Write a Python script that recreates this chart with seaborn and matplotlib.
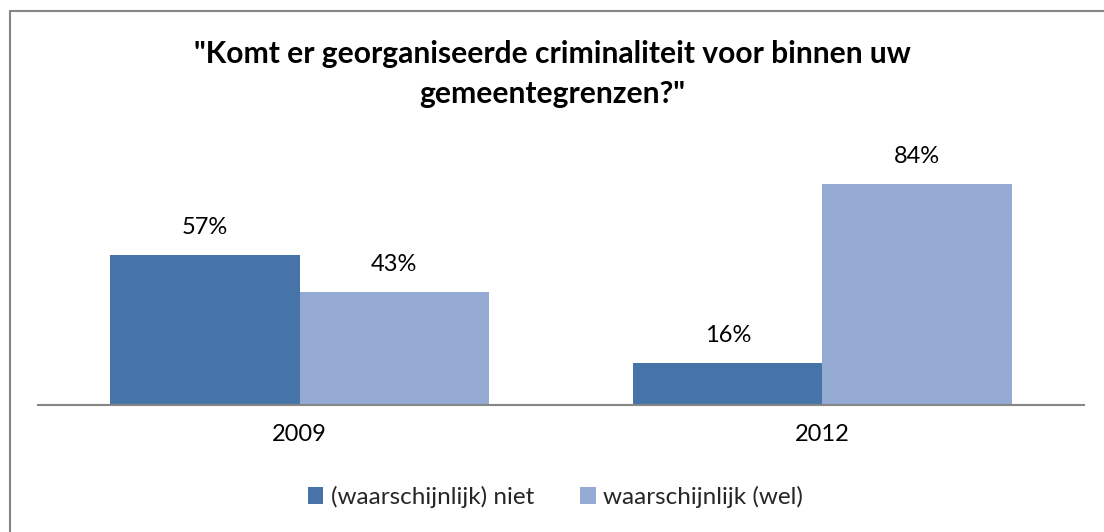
import matplotlib
matplotlib.use("Agg")
import matplotlib.pyplot as plt
from matplotlib.patches import Patch
from matplotlib.lines import Line2D
import seaborn as sns
import pandas as pd

years = ["2009", "2012"]
series = ["(waarschijnlijk) niet", "waarschijnlijk (wel)"]
niet = [57, 16]
wel = [43, 84]
colors = ["#4674A9", "#95AAD2"]
title = '"Komt er georganiseerde criminaliteit voor binnen uw\ngemeentegrenzen?"'

df = pd.DataFrame({
    "jaar": years * 2,
    "antwoord": [series[0]] * 2 + [series[1]] * 2,
    "pct": niet + wel,
})

sns.set_theme(style="white")
plt.rcParams["font.family"] = ["Lato", "DejaVu Sans"]

W, H = 1104, 532
fig = plt.figure(figsize=(W / 100, H / 100), dpi=100)
ax = fig.add_axes([38 / W, 127 / H, 1046 / W, 263 / H])

sns.barplot(data=df, x="jaar", y="pct", hue="antwoord", order=years,
            hue_order=series, palette=colors, width=0.725, saturation=1,
            linewidth=0, ax=ax, legend=False)

for cont in ax.containers:
    ax.bar_label(cont, labels=[f"{v:.0f}%" for v in cont.datavalues],
                 padding=12, fontsize=17, color="#000000")

ax.set_xlim(-0.5, 1.5)
ax.set_ylim(0, 100)
ax.set_xlabel("")
ax.set_ylabel("")
ax.set_yticks([])
ax.tick_params(axis="x", length=0, pad=14, labelsize=17, colors="#000000")
for side in ["top", "right", "left"]:
    ax.spines[side].set_visible(False)
ax.spines["bottom"].set_color("#868686")
ax.spines["bottom"].set_linewidth(1.5)

fig.text(0.5, 1 - 74 / H, title, ha="center", va="center",
         fontsize=21.6, fontweight="bold", linespacing=1.5, color="#000000")

handles = [Patch(facecolor=c, edgecolor="none") for c in colors]
fig.legend(handles, series, loc="center", bbox_to_anchor=(0.503, 1 - 497 / H),
           ncol=2, frameon=False, fontsize=17.5, handlelength=0.65,
           handleheight=0.65, handletextpad=0.3, columnspacing=1.9)

# outer chart frame (left and top edges)
x0, y0 = 9.5 / W, 1 - 10.5 / H
fig.add_artist(Line2D([x0, x0], [0, y0], transform=fig.transFigure,
                      color="#868686", linewidth=1.5))
fig.add_artist(Line2D([x0, 1], [y0, y0], transform=fig.transFigure,
                      color="#868686", linewidth=1.5))

fig.savefig("out.png", dpi=100)
